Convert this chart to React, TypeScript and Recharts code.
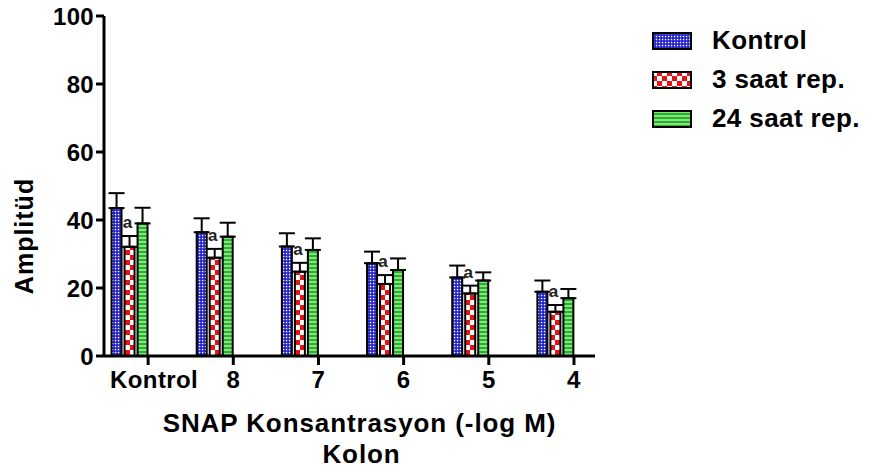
import React from 'react';
import { BarChart, Bar, XAxis, YAxis, ErrorBar, Legend, LabelList } from 'recharts';

// Groups along the x axis
const categories = ['Kontrol', '8', '7', '6', '5', '4'];

// Mean amplitude and error (upper half shown) per series
const kontrolMean = [43.5, 36.4, 32.2, 27.3, 23.1, 18.9];
const kontrolErr = [4.4, 4.1, 3.9, 3.4, 3.5, 3.3];
const rep3Mean = [32.1, 28.9, 24.8, 21.2, 18.4, 13.0];
const rep3Err = [3.2, 2.6, 2.6, 2.6, 2.3, 2.0];
const rep24Mean = [39.0, 35.1, 31.2, 25.3, 22.2, 17.0];
const rep24Err = [4.6, 4.1, 3.4, 3.4, 2.4, 2.7];

// Significance marks over the 3 saat bars
const rep3Marks = ['a', 'a', 'a', 'a', 'a', 'a'];

const yTicks = [0, 20, 40, 60, 80, 100];
const xPositions = [0, 1, 2, 3, 4, 5];

const seriesNames = ['Kontrol', '3 saat rep.', '24 saat rep.'];
const seriesFills = ['url(#patBlue)', 'url(#patRed)', 'url(#patGreen)'];

const data = categories.map((name, i) => ({
  pos: xPositions[i],
  name,
  kontrol: kontrolMean[i],
  kontrolE: [0, kontrolErr[i]],
  rep3: rep3Mean[i],
  rep3E: [0, rep3Err[i]],
  rep24: rep24Mean[i],
  rep24E: [0, rep24Err[i]],
  mark: rep3Marks[i],
}));

const FONT = '"Liberation Sans", Arial, Helvetica, sans-serif';
const BAR_SIZE = 10;
const BAR_GAP = 3;
const STROKE = 2;
// ticks sit at the right edge of each bar group
const GROUP_HALF = (BAR_SIZE * 3 + BAR_GAP * 2) / 2 + STROKE / 2;

const XTick = (props: any) => {
  const { x, y, payload } = props;
  const tx = x + GROUP_HALF;
  const first = payload.value === 0;
  return (
    <g>
      <line x1={tx} x2={tx} y1={y - 12} y2={y - 3} stroke="#000" strokeWidth={3} />
      <text
        x={tx + (first ? 6 : 0)}
        y={y + 20}
        textAnchor="middle"
        fontFamily={FONT}
        fontWeight="bold"
        fontSize={24}
        letterSpacing={0.4}
        fill="#000"
      >
        {categories[payload.value]}
      </text>
    </g>
  );
};

const YTick = (props: any) => {
  const { x, y, payload } = props;
  return (
    <text
      x={x}
      y={y}
      dy={8.5}
      textAnchor="end"
      fontFamily={FONT}
      fontWeight="bold"
      fontSize={24}
      letterSpacing={0.3}
      fill="#000"
    >
      {payload.value}
    </text>
  );
};

const XTitle = (props: any) => {
  const vb = props.viewBox;
  const cx = vb.x + vb.width / 2 + 10;
  return (
    <g fontFamily={FONT} fontWeight="bold" fontSize={26} fill="#000" textAnchor="middle">
      <text x={cx} y={vb.y + 76} letterSpacing={0.9}>
        SNAP Konsantrasyon (-log M)
      </text>
      <text x={cx + 2} y={vb.y + 107} letterSpacing={0.9}>
        Kolon
      </text>
    </g>
  );
};

const YTitle = (props: any) => {
  const vb = props.viewBox;
  const x = vb.x + 33;
  const y = vb.y + 220;
  return (
    <text
      x={x}
      y={y}
      transform={`rotate(-90 ${x} ${y})`}
      textAnchor="middle"
      fontFamily={FONT}
      fontWeight="bold"
      fontSize={25}
      letterSpacing={1}
      fill="#000"
    >
      Amplitüd
    </text>
  );
};

const MarkLabel = (props: any) => {
  const vb = props.viewBox || props;
  const { x, y, width, height } = vb;
  const i = props.index;
  const pxPerUnit = height / rep3Mean[i];
  const errTop = y - rep3Err[i] * pxPerUnit;
  return (
    <text
      x={x + width / 2 - 2}
      y={errTop - 8}
      textAnchor="middle"
      fontFamily={FONT}
      fontWeight="bold"
      fontSize={17}
      fill="#222"
    >
      {props.value}
    </text>
  );
};

const LegendContent = () => (
  <div style={{ display: 'flex', flexDirection: 'column' }}>
    {seriesNames.map((n, i) => (
      <div key={n} style={{ display: 'flex', alignItems: 'center', height: 39 }}>
        <svg width={40} height={18} style={{ display: 'block' }}>
          <rect x={1} y={1} width={38} height={16} fill={seriesFills[i]} stroke="#000" strokeWidth={2} />
        </svg>
        <span
          style={{
            marginLeft: 20,
            fontFamily: FONT,
            fontWeight: 'bold',
            fontSize: 26,
            letterSpacing: 0.4,
            color: '#000',
            whiteSpace: 'nowrap',
          }}
        >
          {n}
        </span>
      </div>
    ))}
  </div>
);

export default function App() {
  return (
    <div style={{ position: 'absolute', left: 0, top: 0, width: 871, height: 472, background: '#fff' }}>
      <BarChart
        width={871}
        height={472}
        data={data}
        margin={{ top: 16, right: 276, bottom: 0, left: 0 }}
        barSize={BAR_SIZE}
        barGap={BAR_GAP}
      >
        <defs>
          <pattern id="patBlue" width="3" height="3" patternUnits="userSpaceOnUse">
            <rect width="3" height="3" fill="#1818c4" />
            <rect x="0.8" y="0.8" width="1.5" height="1.5" fill="#ffffff" />
          </pattern>
          <pattern id="patRed" width="10" height="10" patternUnits="userSpaceOnUse">
            <rect width="10" height="10" fill="#ee1111" />
            <rect x="0" y="0" width="5" height="5" fill="#ffffff" />
            <rect x="5" y="5" width="5" height="5" fill="#ffffff" />
          </pattern>
          <pattern id="patGreen" width="4" height="4" patternUnits="userSpaceOnUse">
            <rect width="4" height="4" fill="#1fb81f" />
            <rect x="0" y="1.5" width="4" height="1" fill="#ffffff" />
          </pattern>
        </defs>
        <XAxis
          dataKey="pos"
          type="number"
          domain={[-0.295, 5.47]}
          ticks={xPositions}
          interval={0}
          height={116}
          tickLine={false}
          tickSize={8}
          tickMargin={4}
          axisLine={{ stroke: '#000', strokeWidth: 3 }}
          tick={<XTick />}
          label={<XTitle />}
        />
        <YAxis
          type="number"
          domain={[0, 100]}
          ticks={yTicks}
          width={104}
          tickSize={8}
          tickMargin={2}
          tickLine={{ stroke: '#000', strokeWidth: 3 }}
          axisLine={{ stroke: '#000', strokeWidth: 3 }}
          tick={<YTick />}
          label={<YTitle />}
        />
        <Legend
          layout="vertical"
          align="center"
          verticalAlign="middle"
          wrapperStyle={{ left: 652, top: 21, width: 219 }}
          content={<LegendContent />}
        />
        <Bar dataKey="kontrol" name={seriesNames[0]} fill={seriesFills[0]} stroke="#000" strokeWidth={STROKE} isAnimationActive={false}>
          <ErrorBar dataKey="kontrolE" width={8} stroke="#000" strokeWidth={2} isAnimationActive={false} />
        </Bar>
        <Bar dataKey="rep3" name={seriesNames[1]} fill={seriesFills[1]} stroke="#000" strokeWidth={STROKE} isAnimationActive={false}>
          <ErrorBar dataKey="rep3E" width={8} stroke="#000" strokeWidth={2} isAnimationActive={false} />
          <LabelList dataKey="mark" content={<MarkLabel />} />
        </Bar>
        <Bar dataKey="rep24" name={seriesNames[2]} fill={seriesFills[2]} stroke="#000" strokeWidth={STROKE} isAnimationActive={false}>
          <ErrorBar dataKey="rep24E" width={8} stroke="#000" strokeWidth={2} isAnimationActive={false} />
        </Bar>
      </BarChart>
    </div>
  );
}
